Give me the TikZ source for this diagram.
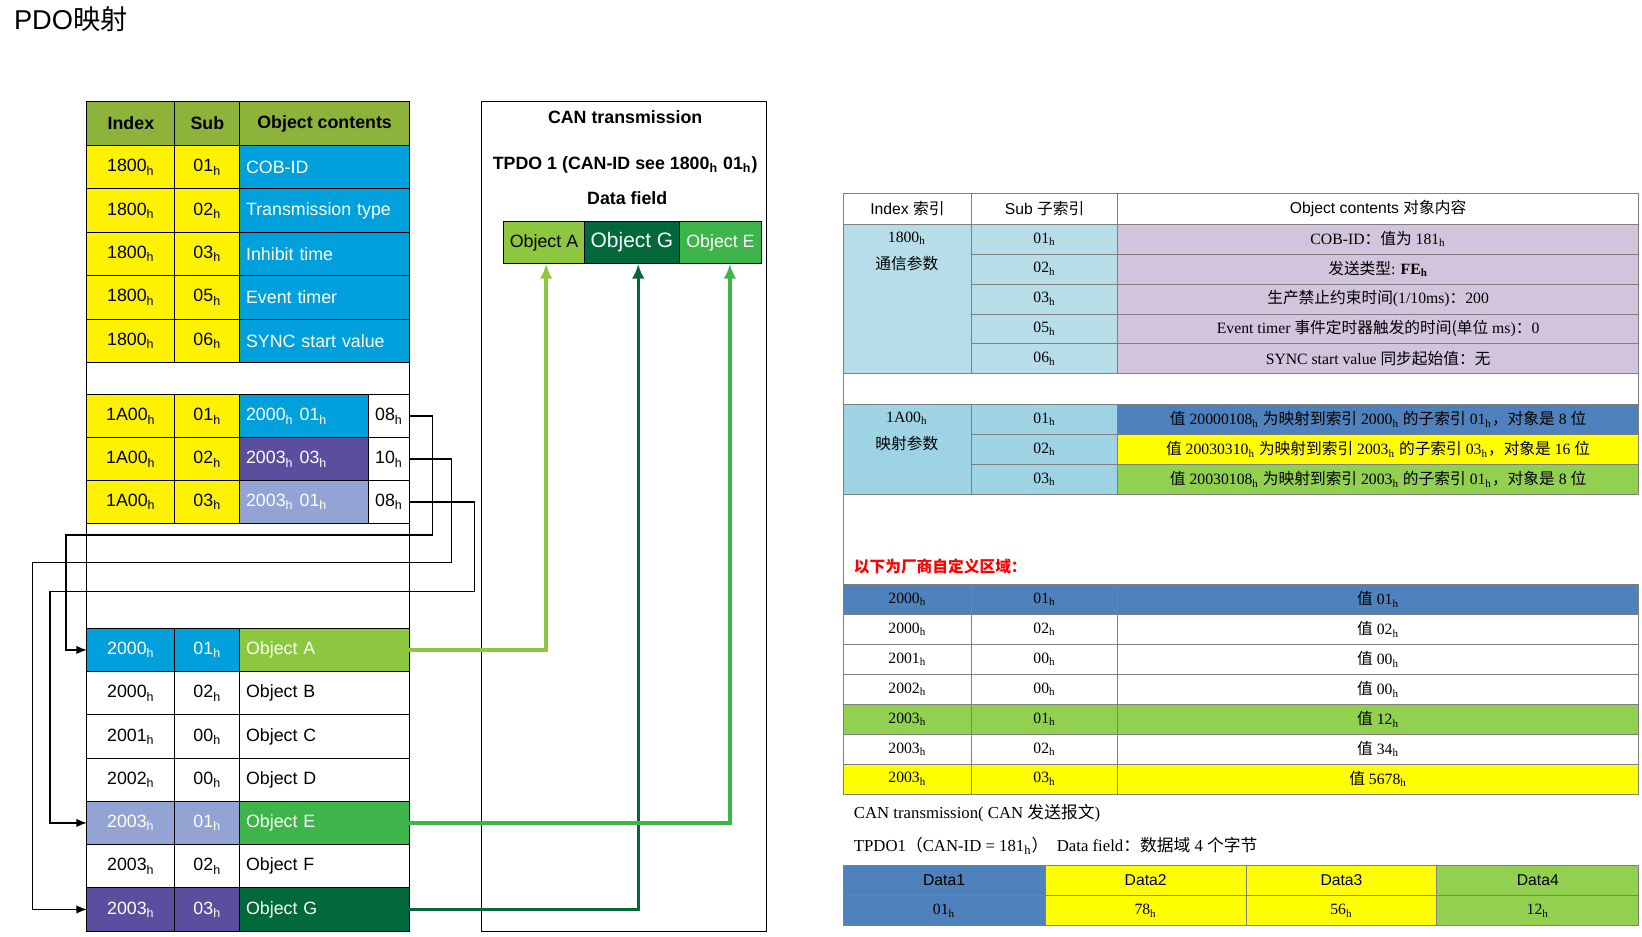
\documentclass[tikz,border=0pt]{standalone}
\usepackage{fontspec}
\setmainfont{Liberation Serif}
\setsansfont{Liberation Sans}
\newfontfamily\cjk{Noto Sans CJK SC}
\usetikzlibrary{arrows.meta,positioning}
\newcommand\hx{\textsubscript{h}}
\newcommand\zh[1]{{\cjk #1}}
% cell: name, x1, y1, x2, y2, fill, options, text
\newcommand\cell[8]{%
  \pgfmathsetmacro\cw{(#4-#2)*0.5}\pgfmathsetmacro\ch{(#5-#3)*0.5}%
  \pgfmathsetmacro\tw{\cw-6}%
  \node[cell, fill=#6, minimum width=\cw pt, minimum height=\ch pt, #7]
    (#1) at ({(#2+#4)/2},{(#3+#5)/2}) {#8};}
\definecolor{ylw}{HTML}{FFF200}
\definecolor{cblu}{HTML}{00A0DC}
\definecolor{hdr}{HTML}{8DB33A}
\definecolor{dpur}{HTML}{5B4E9E}
\definecolor{lpur}{HTML}{93A3D3}
\definecolor{gA}{HTML}{8DC63F}
\definecolor{gE}{HTML}{3DB54A}
\definecolor{gG}{HTML}{00683A}
\definecolor{rlb}{HTML}{B7DEE8}
\definecolor{rlb2}{HTML}{9ED3E4}
\definecolor{rpur}{HTML}{D3C4DE}
\definecolor{rblu}{HTML}{4F81BD}
\definecolor{rylw}{HTML}{FFFF00}
\definecolor{rgrn}{HTML}{92D050}
\definecolor{rline}{HTML}{808080}
\begin{document}
\begin{tikzpicture}[x=0.5pt,y=-0.5pt,
  cell/.style={draw, inner sep=3pt, outer sep=0pt, font=\sffamily\fontsize{8.5}{10}\selectfont},
  lft/.style={text width=\tw pt, align=left},
  rcell/.style={draw=rline, font=\fontsize{7.5}{8}\selectfont},
  link/.style={line width=0.75pt, -{Latex[length=5pt,width=4pt]}},
  gline/.style={line width=1.6pt, -{Latex[length=7pt,width=6pt]}},
  txt/.style={inner sep=0pt, font=\fontsize{7.5}{8}\selectfont}]
\useasboundingbox (0,0) rectangle (1568,894);
\node[anchor=west, inner sep=0pt, font=\sffamily\fontsize{13}{14}\selectfont] (title) at (13,18) {PDO\zh{映射}};

%% left table
\cell{h1}{83}{97}{167}{139}{hdr}{font=\sffamily\bfseries\fontsize{8.5}{10}\selectfont}{Index}
\cell{h2}{167}{97}{229}{139}{hdr}{font=\sffamily\bfseries\fontsize{8.5}{10}\selectfont}{Sub}
\cell{h3}{229}{97}{391}{139}{hdr}{font=\sffamily\bfseries\fontsize{8.5}{10}\selectfont}{Object contents}
\foreach \i/\s/\t in {0/01/COB-ID,1/02/Transmission type,2/03/Inhibit time,3/05/Event timer,4/06/SYNC start value}{
  \pgfmathsetmacro\ya{139+41.4*\i}\pgfmathsetmacro\yb{\ya+41.4}
  \cell{a\i}{83}{\ya}{167}{\yb}{ylw}{}{1800\hx}
  \cell{b\i}{167}{\ya}{229}{\yb}{ylw}{}{\s\hx}
  \cell{c\i}{229}{\ya}{391}{\yb}{cblu}{lft, text=white}{\t}
}
\foreach \i/\s/\t/\f in {1/01/{2000\hx\ 01\hx}/cblu,2/02/{2003\hx\ 03\hx}/dpur,3/03/{2003\hx\ 01\hx}/lpur}{
  \pgfmathsetmacro\ya{377+41*(\i-1)}\pgfmathsetmacro\yb{\ya+41}
  \cell{m\i}{83}{\ya}{167}{\yb}{ylw}{}{1A00\hx}
  \cell{n\i}{167}{\ya}{229}{\yb}{ylw}{}{\s\hx}
  \cell{p\i}{229}{\ya}{352}{\yb}{\f}{lft, text=white}{\t}
}
\cell{s1}{352}{377}{391}{418}{white}{inner sep=1pt}{08\hx}
\cell{s2}{352}{418}{391}{459}{white}{inner sep=1pt}{10\hx}
\cell{s3}{352}{459}{391}{500}{white}{inner sep=1pt}{08\hx}
\foreach \i/\x/\s/\t/\fa/\fc/\tc in {0/2000/01/Object A/cblu/gA/white,1/2000/02/Object B/white/white/black,
  2/2001/00/Object C/white/white/black,3/2002/00/Object D/white/white/black,4/2003/01/Object E/lpur/gE/white,
  5/2003/02/Object F/white/white/black,6/2003/03/Object G/dpur/gG/white}{
  \pgfmathsetmacro\ya{600+41.3*\i}\pgfmathsetmacro\yb{\ya+41.3}
  \cell{i\i}{83}{\ya}{167}{\yb}{\fa}{text=\tc}{\x\hx}
  \cell{j\i}{167}{\ya}{229}{\yb}{\fa}{text=\tc}{\s\hx}
  \cell{k\i}{229}{\ya}{391}{\yb}{\fc}{lft, text=\tc}{\t}
}
\draw (83,97) rectangle (391,889);

%% mapping links
\draw[link] (s1.east) -- ++(22,0) |- (63,511) |- (i0.west);
\draw[link] (s2.east) -- ++(40,0) |- (31,537) |- (i6.west);
\draw[link] (s3.east) -- ++(62,0) |- (48,565) |- (i4.west);

%% CAN transmission
\node[draw, minimum width=136pt, minimum height=396pt, inner sep=0pt] (can) at (596,493) {};
\node[txt, font=\sffamily\bfseries\fontsize{8.5}{9}\selectfont] (cant) at (597,112) {CAN transmission};
\node[txt, font=\sffamily\bfseries\fontsize{8.5}{9}\selectfont] (tpdo) at (597,157) {TPDO 1 (CAN-ID see 1800\hx\ 01\hx)};
\node[txt, font=\sffamily\bfseries\fontsize{8.5}{9}\selectfont] (dfl) at (599,189) {Data field};
\cell{objA}{481}{211}{558}{252}{gA}{inner sep=1pt}{Object A}
\cell{objG}{558}{211}{649}{252}{gG}{inner sep=1pt, text=white, font=\sffamily\fontsize{10}{11}\selectfont}{Object G}
\cell{objE}{649}{211}{727}{252}{gE}{inner sep=1pt, text=white}{Object E}
\draw[gline, gA] (k0.east) -| ([xshift=1pt]objA.south);
\draw[gline, gG] (k6.east) -| ([xshift=3pt]objG.south);
\draw[gline, gE] (k4.east) -| ([xshift=4.5pt]objE.south);

%% right table
\cell{rh1}{805}{185}{928}{214}{white}{rcell, font=\sffamily\fontsize{7.5}{8}\selectfont}{Index \zh{索引}}
\cell{rh2}{928}{185}{1067}{214}{white}{rcell, font=\sffamily\fontsize{7.5}{8}\selectfont}{Sub \zh{子索引}}
\cell{rh3}{1067}{185}{1565}{214}{white}{rcell, font=\sffamily\fontsize{7.5}{8}\selectfont}{Object contents \zh{对象内容}}
\cell{ri1}{805}{214}{928}{357}{rlb}{rcell}{}
\node[txt, align=center, anchor=north] (ril1) at (866,221) {1800\hx\\[5pt]\zh{通信参数}};
\foreach \i/\s/\t in {0/01/{COB-ID\zh{：值为} 181\hx},1/02/{\zh{发送类型}: \textbf{FE\hx}},
  2/03/{\zh{生产禁止约束时间}(1/10ms)\zh{：}200},3/05/{Event timer \zh{事件定时器触发的时间(单位} ms)\zh{：}0},
  4/06/{SYNC start value \zh{同步起始值：无}}}{
  \pgfmathsetmacro\ya{214+28.6*\i}\pgfmathsetmacro\yb{\ya+28.6}
  \cell{rb\i}{928}{\ya}{1067}{\yb}{rlb}{rcell}{\s\hx}
  \cell{rc\i}{1067}{\ya}{1565}{\yb}{rpur}{rcell}{\t}
}
\draw[rline] (805,357) rectangle (1565,386);
\cell{ri2}{805}{386}{928}{472}{rlb2}{rcell}{}
\node[txt, align=center, anchor=north] (ril2) at (866,393) {1A00\hx\\[5pt]\zh{映射参数}};
\foreach \i/\s/\t/\f in {0/01/{\zh{值} 20000108\hx\ \zh{为映射到索引} 2000\hx\ \zh{的子索引} 01\hx\zh{，对象是} 8 \zh{位}}/rblu,
  1/02/{\zh{值} 20030310\hx\ \zh{为映射到索引} 2003\hx\ \zh{的子索引} 03\hx\zh{，对象是} 16 \zh{位}}/rylw,
  2/03/{\zh{值} 20030108\hx\ \zh{为映射到索引} 2003\hx\ \zh{的子索引} 01\hx\zh{，对象是} 8 \zh{位}}/rgrn}{
  \pgfmathsetmacro\ya{386+28.7*\i}\pgfmathsetmacro\yb{\ya+28.7}
  \cell{rd\i}{928}{\ya}{1067}{\yb}{rlb2}{rcell}{\s\hx}
  \cell{re\i}{1067}{\ya}{1565}{\yb}{\f}{rcell}{\t}
}
\draw[rline] (805,472) -- (805,558);
\node[txt, anchor=west, text=red, font=\cjk\bfseries\fontsize{7.5}{8}\selectfont] (vend) at (815,541) {以下为厂商自定义区域：};
\foreach \i/\x/\s/\v/\f in {0/2000/01/01/rblu,1/2000/02/02/white,2/2001/00/00/white,3/2002/00/00/white,
  4/2003/01/12/rgrn,5/2003/02/34/white,6/2003/03/5678/rylw}{
  \pgfmathsetmacro\ya{558+28.6*\i}\pgfmathsetmacro\yb{\ya+28.6}
  \cell{rf\i}{805}{\ya}{928}{\yb}{\f}{rcell}{\x\hx}
  \cell{rg\i}{928}{\ya}{1067}{\yb}{\f}{rcell}{\s\hx}
  \cell{rk\i}{1067}{\ya}{1565}{\yb}{\f}{rcell}{\zh{值} \v\hx}
}
\node[txt, anchor=west, font=\fontsize{8}{9}\selectfont] (rcan) at (815,777) {CAN transmission( CAN \zh{发送报文})};
\node[txt, anchor=west, font=\fontsize{8}{9}\selectfont] (rtpdo) at (815,808) {TPDO1\zh{（}CAN-ID = 181\hx\zh{）}\ \ Data field\zh{：数据域} 4 \zh{个字节}};
\foreach \i/\xa/\xb/\v/\f in {1/805/998/01/rblu,2/998/1190/78/rylw,3/1190/1372/56/rylw,4/1372/1565/12/rgrn}{
  \cell{dh\i}{\xa}{826}{\xb}{855}{\f}{rcell, font=\sffamily\fontsize{7.5}{8}\selectfont}{Data\i}
  \cell{dv\i}{\xa}{855}{\xb}{884}{\f}{rcell}{\v\hx}
}
\end{tikzpicture}
\end{document}
